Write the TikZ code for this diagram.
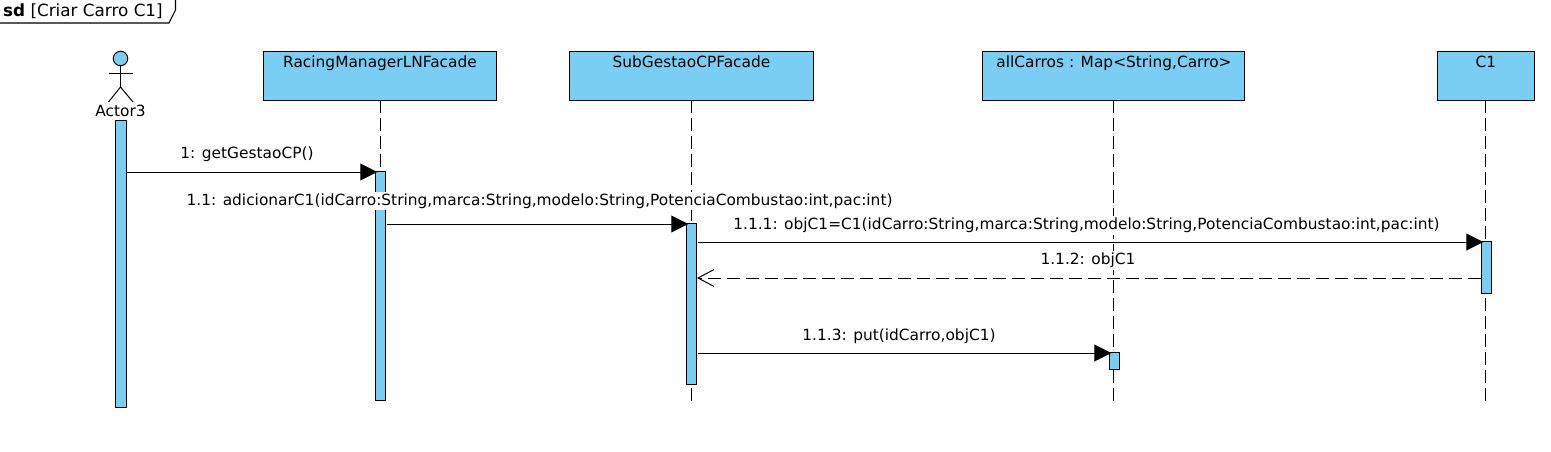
\documentclass[tikz,border=0pt]{standalone}
\usepackage{fontspec}
\setmainfont{DejaVu Sans}
\usetikzlibrary{arrows.meta}
\definecolor{umlblue}{HTML}{7ACEF4}
\tikzset{
    headbox/.style={draw=black, fill=umlblue, line width=0.9pt, outer sep=0pt, inner sep=0pt},
    bar/.style={draw=black, fill=umlblue, line width=0.9pt, outer sep=0pt, inner sep=0pt, minimum width=10.5pt},
    lifeline/.style={line width=1pt, dash pattern=on 13pt off 5pt},
    msg/.style={line width=1pt, shorten >=-2pt, -{Triangle[length=17pt,width=17pt]}},
    reply/.style={line width=1pt, dash pattern=on 13pt off 6pt, -{Straight Barb[length=16pt,width=17pt,line width=1pt]}},
    msglabel/.style={fill=white, inner xsep=1pt, inner ysep=2pt, font=\fontsize{15.4pt}{18pt}\selectfont},
    headlabel/.style={anchor=north, inner sep=0pt, text height=11.5pt, font=\fontsize{15.4pt}{18pt}\selectfont}
}
\begin{document}
\begin{tikzpicture}[x=1pt, y=-1pt]
    \useasboundingbox (0,0) rectangle (1551,452);

    % Frame tab
    \draw[line width=1.1pt] (0,23) -- (169,23) -- (175.5,10) -- (175.5,0);
    \node[anchor=west, inner sep=0pt, font=\fontsize{16.8pt}{19pt}\selectfont] (frametitle) at (3,11) {\textbf{sd} [Criar Carro C1]};

    % Lifeline heads
    \node[headbox, minimum width=233pt, minimum height=49pt] (racing) at (379.5,75.5) {};
    \node[headbox, minimum width=244pt, minimum height=49pt] (subgestao) at (691,75.5) {};
    \node[headbox, minimum width=262pt, minimum height=49pt] (carros) at (1113,75.5) {};
    \node[headbox, minimum width=97pt, minimum height=49pt] (cone) at (1485.5,75.5) {};

    \node[headlabel] (racinglabel) at ([xshift=0.5pt,yshift=-4.5pt]racing.north) {RacingManagerLNFacade};
    \node[headlabel] (subgestaolabel) at ([xshift=0.5pt,yshift=-4.5pt]subgestao.north) {SubGestaoCPFacade};
    \node[headlabel] (carroslabel) at ([xshift=1pt,yshift=-4.5pt]carros.north) {allCarros : Map<String,Carro>};
    \node[headlabel] (conelabel) at ([xshift=0.5pt,yshift=-4.5pt]cone.north) {C1};

    % Lifeline ends
    \coordinate (racingend) at (380,404);
    \coordinate (subgestaoend) at (691,404);
    \coordinate (carrosend) at (1113,404);
    \coordinate (coneend) at (1485.5,404);

    \draw[lifeline] (racing.south -| racingend) -- (racingend);
    \draw[lifeline] (subgestao.south -| subgestaoend) -- (subgestaoend);
    \draw[lifeline] (carros.south -| carrosend) -- (carrosend);
    \draw[lifeline] (cone.south -| coneend) -- (coneend);

    % Actor
    \node[circle, draw=black, fill=umlblue, line width=1pt, minimum size=14.5pt, inner sep=0pt, outer sep=0pt] (actorhead) at (120.5,58.5) {};
    \coordinate (actorhip) at (120.5,87);
    \coordinate (actorarml) at (108.5,74);
    \coordinate (actorarmr) at (133,74);
    \coordinate (actorlegl) at (108.5,102);
    \coordinate (actorlegr) at (133,102);
    \draw[line width=1pt] (actorhead.south) -- (actorhip);
    \draw[line width=1pt] (actorarml) -- (actorarmr);
    \draw[line width=1pt] (actorlegl) -- (actorhip) -- (actorlegr);
    \node[headlabel] (actorlabel) at (120.5,104.5) {Actor3};

    % Activation bars
    \node[bar, minimum height=287pt] (actorbar) at (121,263.5) {};
    \node[bar, minimum height=229pt] (racingbar) at (380.5,285.5) {};
    \node[bar, minimum height=161pt] (subgestaobar) at (691.5,303.5) {};
    \node[bar, minimum height=17pt] (carrosbar) at (1114.5,360.5) {};
    \node[bar, minimum height=52pt] (conebar) at (1486.5,267) {};

    % Message ends
    \coordinate (m1start) at (127,172);
    \coordinate (m2start) at (387,224);
    \coordinate (m3start) at (698,242);
    \coordinate (m4end) at (697,278);
    \coordinate (m5start) at (698,353);

    % Labels
    \node[msglabel] (m1label) at (247,154.5) {1: getGestaoCP()};
    \node[msglabel] (m2label) at (539.5,201) {1.1: adicionarC1(idCarro:String,marca:String,modelo:String,PotenciaCombustao:int,pac:int)};
    \node[msglabel] (m3label) at (1086.5,225.5) {1.1.1: objC1=C1(idCarro:String,marca:String,modelo:String,PotenciaCombustao:int,pac:int)};
    \node[msglabel] (m4label) at (1088,260.5) {1.1.2: objC1};
    \node[msglabel] (m5label) at (899,336.5) {1.1.3: put(idCarro,objC1)};

    % Messages
    \draw[msg] (m1start) -- (m1start -| racingbar.west);
    \draw[msg] (m2start) -- (m2start -| subgestaobar.west);
    \draw[msg] (m3start) -- (m3start -| conebar.west);
    \draw[reply] (m4end -| conebar.west) -- (m4end);
    \draw[msg] (m5start) -- (m5start -| carrosbar.west);
\end{tikzpicture}
\end{document}
